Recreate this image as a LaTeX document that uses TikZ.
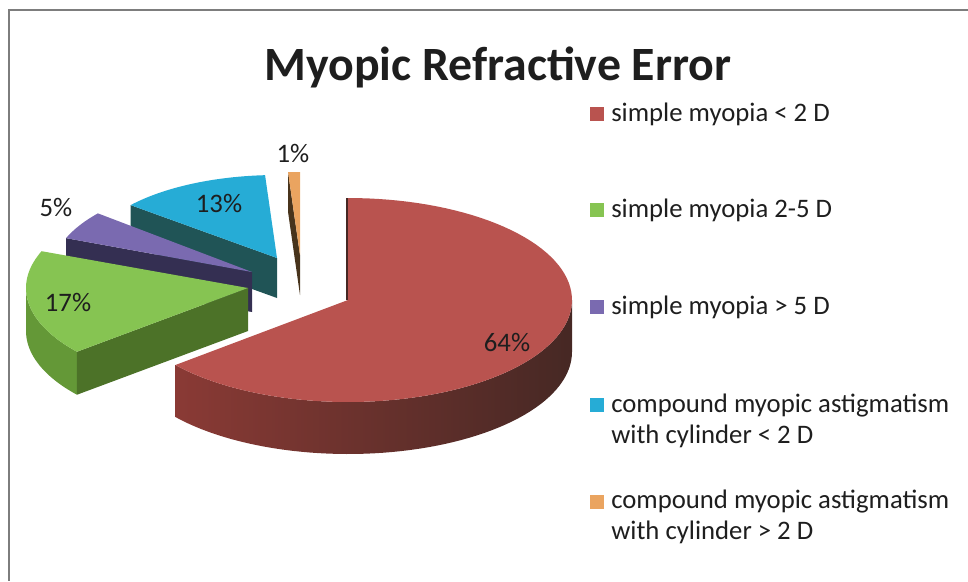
\documentclass[tikz,border=0pt]{standalone}
\usepackage{fontspec}
\setmainfont{Carlito}
\usetikzlibrary{positioning}
\definecolor{brick}{RGB}{185,83,79}
\definecolor{brickside}{RGB}{138,58,53}
\definecolor{brickdark}{RGB}{70,40,36}
\definecolor{leaf}{RGB}{134,196,82}
\definecolor{leafside}{RGB}{100,152,55}
\definecolor{leafwall}{RGB}{76,114,40}
\definecolor{plum}{RGB}{122,106,176}
\definecolor{plumwall}{RGB}{52,47,82}
\definecolor{sky}{RGB}{38,172,214}
\definecolor{skywall}{RGB}{32,84,86}
\definecolor{peach}{RGB}{234,164,96}
\definecolor{peachwall}{RGB}{72,52,28}
\definecolor{inkgray}{RGB}{30,30,30}
\definecolor{framegray}{RGB}{125,125,125}

\begin{document}
\begin{tikzpicture}[x=0.025cm, y=-0.025cm,
    pct/.style={inner sep=0pt, font=\fontsize{19}{22}\selectfont, text=inkgray},
    keysq/.style={minimum size=0.35cm, inner sep=0pt},
    keytxt/.style={anchor=west, inner sep=0pt, align=left, font=\fontsize{19}{22}\selectfont, text=inkgray}]
\useasboundingbox (0,0) rectangle (968,581);
\draw[line width=1pt, framegray] (968,10) -- (9,10) -- (9,581);
\node[anchor=base, font=\fontsize{34}{40}\selectfont\bfseries, text=inkgray] (title) at (498,80) {Myopic Refractive Error};

% 1% slice
\begin{scope}[shift={(300,255)}]
    \fill[peachwall] (0,0) -- ({190*cos(93.6)},{-83*sin(93.6)}) -- ++(0,40) -- (0,40) -- cycle;
    \fill[peach] (0,0) -- plot[domain=90:93.6, samples=5] ({190*cos(\x)},{-83*sin(\x)}) -- cycle;
\end{scope}
% 13% slice
\begin{scope}[shift={(277,258)}]
    \fill[skywall] (0,0) -- ({190*cos(140.4)},{-83*sin(140.4)}) -- ++(0,40) -- (0,40) -- cycle;
    \fill[sky] (0,0) -- plot[domain=93.6:140.4, samples=30] ({190*cos(\x)},{-83*sin(\x)}) -- cycle;
\end{scope}
% 5% slice
\begin{scope}[shift={(252,272)}]
    \fill[plumwall] (0,0) -- ({200*cos(158.4)},{-92*sin(158.4)}) -- ++(0,40) -- (0,40) -- cycle;
    \fill[plum] (0,0) -- plot[domain=140.4:158.4, samples=15] ({200*cos(\x)},{-92*sin(\x)}) -- cycle;
\end{scope}
% 17% slice
\begin{scope}[shift={(248,288)}]
    \fill[leafside] plot[domain=180:219.6, samples=25] ({222*cos(\x)},{-100*sin(\x)})
        -- plot[domain=219.6:180, samples=25] ({222*cos(\x)},{-100*sin(\x)+43}) -- cycle;
    \fill[leafwall] (0,0) -- ({222*cos(219.6)},{-100*sin(219.6)}) -- ++(0,43) -- (0,43) -- cycle;
    \fill[leaf] (0,0) -- plot[domain=158.4:219.6, samples=40] ({222*cos(\x)},{-100*sin(\x)}) -- cycle;
\end{scope}
% 64% slice
\begin{scope}[shift={(348,300)}]
    \shade[left color=brickside, right color=brickdark] plot[domain=219.6:360, samples=60] ({224*cos(\x)},{-102*sin(\x)})
        -- plot[domain=360:219.6, samples=60] ({224*cos(\x)},{-102*sin(\x)+52}) -- cycle;
    \fill[brick] (0,0) -- plot[domain=-140.4:90, samples=90] ({224*cos(\x)},{-102*sin(\x)}) -- cycle;
    \draw[brickdark, line width=0.8pt] (-1,0) -- (-1,-102);
\end{scope}

% percentages
\node[pct] (p64) at (507,342) {64\%};
\node[pct] (p17) at (68,302) {17\%};
\node[pct] (p5) at (56,207) {5\%};
\node[pct] (p13) at (219,203) {13\%};
\node[pct] (p1) at (293,153) {1\%};

% legend
\node[keysq, fill=brick] (k1) at (597,114) {};
\node[keytxt] (t1) at (611,114) {simple myopia < 2 D};
\node[keysq, fill=leaf] (k2) at (597,210) {};
\node[keytxt] (t2) at (611,210) {simple myopia 2-5 D};
\node[keysq, fill=plum] (k3) at (597,307) {};
\node[keytxt] (t3) at (611,307) {simple myopia > 5 D};
\node[keysq, fill=sky] (k4) at (597,405) {};
\node[keytxt] (t4) at (611,421) {compound myopic astigmatism\\with cylinder < 2 D};
\node[keysq, fill=peach] (k5) at (597,502) {};
\node[keytxt] (t5) at (611,517) {compound myopic astigmatism\\with cylinder > 2 D};
\end{tikzpicture}
\end{document}
